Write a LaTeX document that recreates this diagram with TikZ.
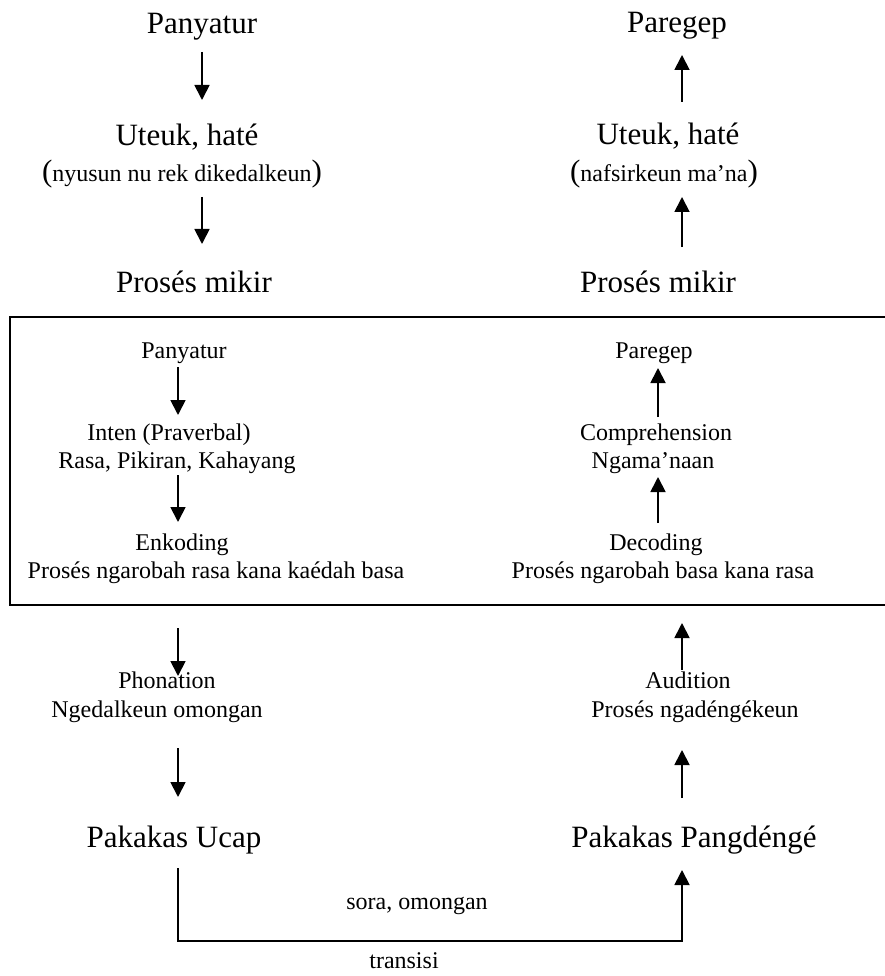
\documentclass[tikz,border=0pt]{standalone}
\usepackage{fontspec}
\setmainfont{Liberation Serif}
\usetikzlibrary{arrows.meta}
\begin{document}
\begin{tikzpicture}[x=1pt,y=-1pt,
  big/.style={font=\fontsize{31}{36}\selectfont, inner sep=0pt, anchor=base},
  sml/.style={font=\fontsize{24}{28}\selectfont, inner sep=0pt, anchor=base},
  arr/.style={-{Triangle[width=15pt,length=15pt]}, line width=1.8pt},
  frame/.style={line width=2pt}]
\useasboundingbox (0,0) rectangle (884,976);
% ---------- top left
\node[big] (lpany) at (202,34) {Panyatur};
\node[big] (luteuk) at (187,146) {Uteuk, haté};
\node[sml] (lnyusun) at (182,182) {{\fontsize{31}{36}\selectfont(}nyusun nu rek dikedalkeun{\fontsize{31}{36}\selectfont)}};
\node[big] (lproses) at (194,292) {Prosés mikir};
\coordinate (a1s) at (202,52); \coordinate (a1e) at (202,100);
\coordinate (a2s) at (202,197); \coordinate (a2e) at (202,244);
\draw[arr] (a1s) -- (a1e);
\draw[arr] (a2s) -- (a2e);
% ---------- top right
\node[big] (rpareg) at (677,33) {Paregep};
\node[big] (ruteuk) at (668,145) {Uteuk, haté};
\node[sml] (rnafsir) at (664,182) {{\fontsize{31}{36}\selectfont(}nafsirkeun ma’na{\fontsize{31}{36}\selectfont)}};
\node[big] (rproses) at (658,292) {Prosés mikir};
\coordinate (b1s) at (682,102); \coordinate (b1e) at (682,55);
\coordinate (b2s) at (682,247); \coordinate (b2e) at (682,197);
\draw[arr] (b1s) -- (b1e);
\draw[arr] (b2s) -- (b2e);
% ---------- box
\draw[frame] (890,317) -- (10,317) -- (10,605) -- (890,605);
% left inside box
\node[sml] (bpany) at (184,358) {Panyatur};
\node[sml] (binten) at (169,440) {Inten (Praverbal)};
\node[sml] (brasa) at (177,468) {Rasa, Pikiran, Kahayang};
\node[sml] (benk) at (182,550) {Enkoding};
\node[sml] (benk2) at (216,578) {Prosés ngarobah rasa kana kaédah basa};
\coordinate (c1s) at (178,367); \coordinate (c1e) at (178,415);
\coordinate (c2s) at (178,475); \coordinate (c2e) at (178,522);
\draw[arr] (c1s) -- (c1e);
\draw[arr] (c2s) -- (c2e);
% right inside box
\node[sml] (bpareg) at (654,358) {Paregep};
\node[sml] (bcomp) at (656,440) {Comprehension};
\node[sml] (bngama) at (653,468) {Ngama’naan};
\node[sml] (bdec) at (656,550) {Decoding};
\node[sml] (bdec2) at (663,578) {Prosés ngarobah basa kana rasa};
\coordinate (d1s) at (658,417); \coordinate (d1e) at (658,368);
\coordinate (d2s) at (658,523); \coordinate (d2e) at (658,477);
\draw[arr] (d1s) -- (d1e);
\draw[arr] (d2s) -- (d2e);
% ---------- lower left
\node[sml] (phon) at (167,688) {Phonation};
\node[sml] (phon2) at (157,717) {Ngedalkeun omongan};
\node[big] (ucap) at (174,847) {Pakakas Ucap};
\coordinate (e1s) at (178,628); \coordinate (e1e) at (178,676);
\coordinate (e2s) at (178,748); \coordinate (e2e) at (178,797);
\draw[arr] (e1s) -- (e1e);
\draw[arr] (e2s) -- (e2e);
% ---------- lower right
\node[sml] (aud) at (688,688) {Audition};
\node[sml] (aud2) at (695,717) {Prosés ngadéngékeun};
\node[big] (deng) at (694,847) {Pakakas Pangdéngé};
\coordinate (f1s) at (682,670); \coordinate (f1e) at (682,623);
\coordinate (f2s) at (682,798); \coordinate (f2e) at (682,750);
\draw[arr] (f1s) -- (f1e);
\draw[arr] (f2s) -- (f2e);
% ---------- transition
\coordinate (gs) at (178,868);
\coordinate (ge) at (682,870);
\draw[arr] (gs) -- (178,941) -- (682,941) -- (ge);
\node[sml] (sora) at (417,909) {sora, omongan};
\node[sml] (trans) at (404,968) {transisi};
\end{tikzpicture}
\end{document}
